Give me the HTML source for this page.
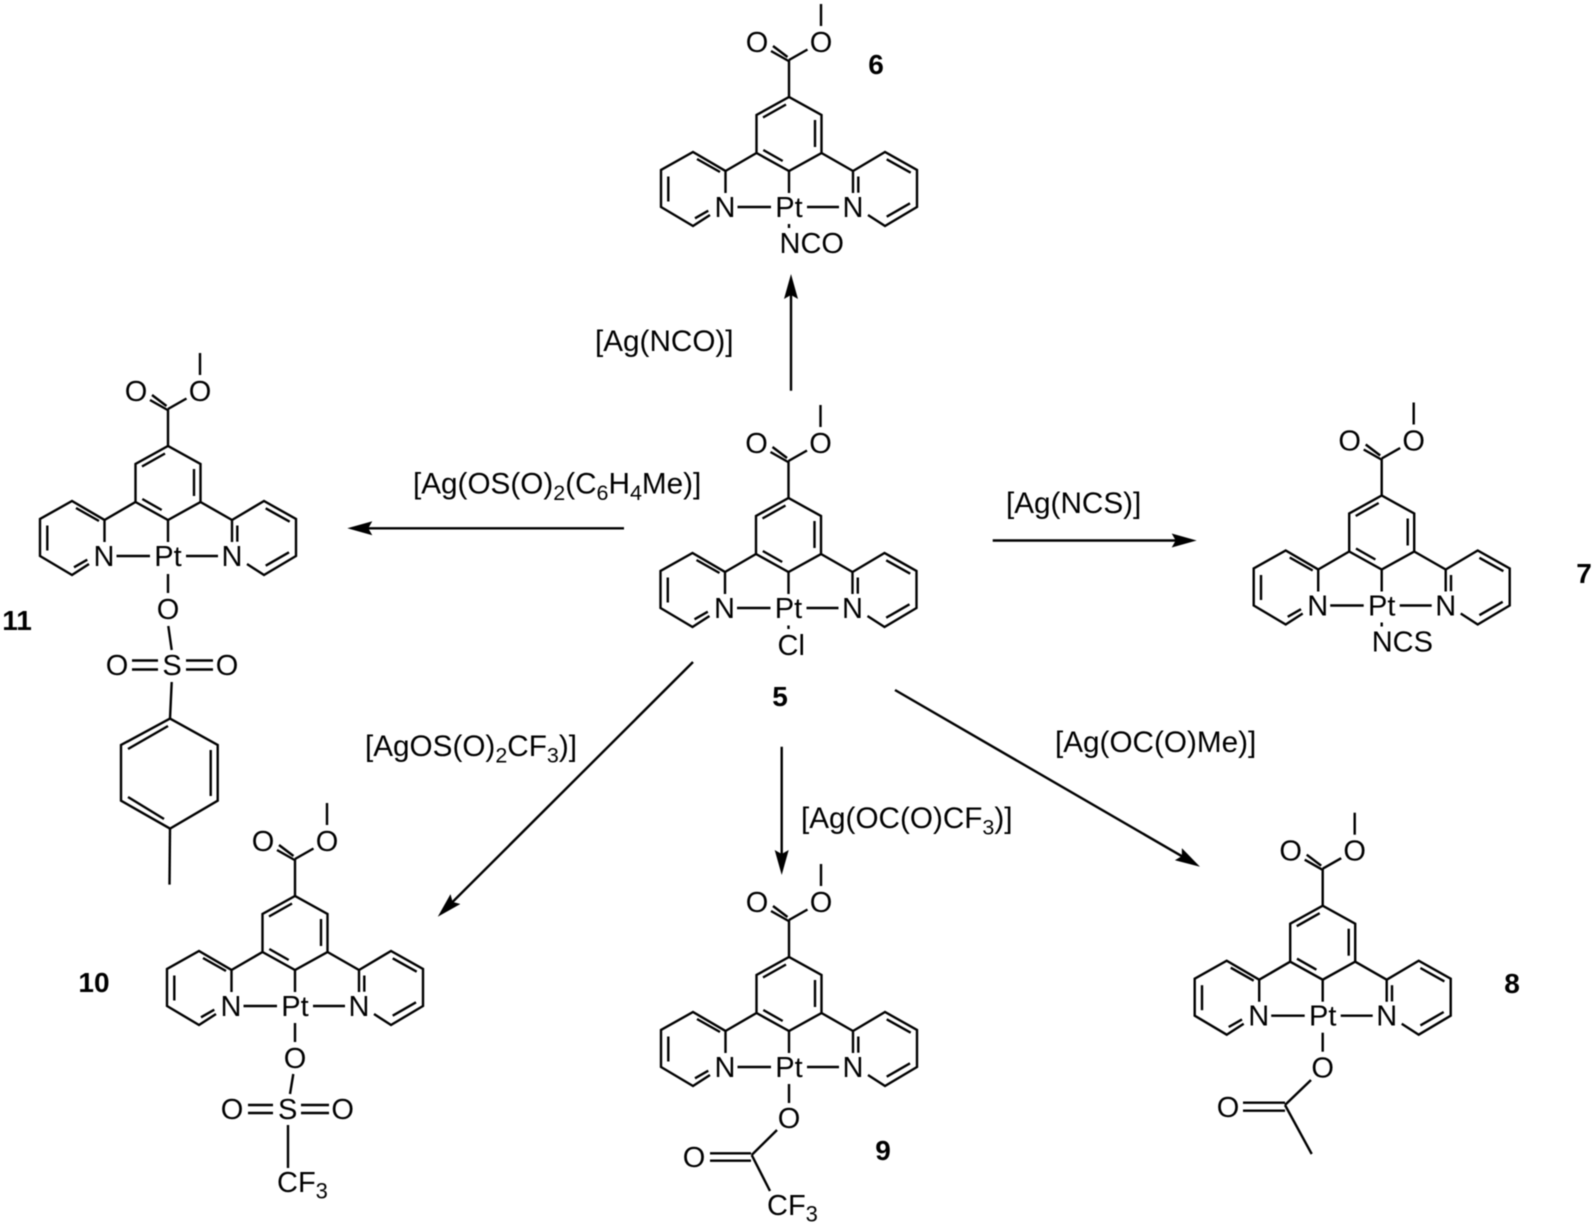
<!DOCTYPE html>
<html>
<head>
<meta charset="utf-8">
<style>
html,body{margin:0;padding:0;background:#fff;}
svg{display:block;filter:blur(0.4px);}
text{font-family:"Liberation Sans",Arial,sans-serif;font-size:29px;fill:#000;}
.a{text-anchor:middle;}
.b{font-weight:bold;text-anchor:middle;font-size:28px;}
.r{font-size:29.7px;}
line,polyline{stroke:#000;stroke-width:2.4;fill:none;stroke-linejoin:miter;}
</style>
</head>
<body>
<svg width="1595" height="1227" viewBox="0 0 1595 1227" xmlns="http://www.w3.org/2000/svg">
<defs>
<marker id="ah" markerUnits="userSpaceOnUse" markerWidth="28" markerHeight="18" viewBox="0 -9 28 18" refX="19" refY="0" orient="auto">
<path d="M25,0 L0,-7 L4,0 L0,7 Z" fill="#000"/>
</marker>
<g id="core">
<polyline points="-32.5,-54 -32.5,-92 0,-110 32.5,-92 32.5,-54 0,-36 -32.5,-54"/>
<line x1="-26" y1="-89.5" x2="-3" y2="-102.5"/>
<line x1="26" y1="-87" x2="26" y2="-60"/>
<line x1="-25.7" y1="-57" x2="-6.3" y2="-46"/>
<line x1="0" y1="-36" x2="0" y2="-14"/>
<line x1="0" y1="-110" x2="0" y2="-147"/>
<line x1="0" y1="-147" x2="18.5" y2="-157.5"/>
<line x1="0.5" y1="-145.5" x2="-18" y2="-156"/>
<line x1="-1.5" y1="-150" x2="-16" y2="-161"/>
<line x1="32" y1="-203" x2="32" y2="-181"/>
<line x1="-32.5" y1="-54" x2="-63.5" y2="-36"/>
<polyline points="-63.5,-14 -63.5,-36 -96,-55 -128,-37 -128,0 -96,19 -79,8"/>
<line x1="-92" y1="-48" x2="-69" y2="-35"/>
<line x1="-120.7" y1="-30.5" x2="-120.7" y2="-5.5"/>
<line x1="-94" y1="11.3" x2="-80.7" y2="3.7"/>
<line x1="-51.5" y1="0" x2="-18" y2="0"/>
<line x1="32.5" y1="-54" x2="64" y2="-36"/>
<polyline points="64,-14 64,-36 96,-55 128,-37 128,0 96,19 79,8"/>
<line x1="69.3" y1="-30.5" x2="69.3" y2="-14.3"/>
<line x1="97.7" y1="-47.7" x2="121.7" y2="-34.3"/>
<line x1="121" y1="-3.7" x2="97.7" y2="9.7"/>
<line x1="18" y1="0" x2="50" y2="0"/>
</g>
</defs>

<!-- compound 6 -->
<g transform="translate(789,207)">
<use href="#core"/>
<line x1="0" y1="17" x2="0" y2="21"/>
<text class="a" x="-32" y="-155">O</text><text class="a" x="32" y="-155">O</text>
<text class="a" x="-64" y="10">N</text><text class="a" x="0" y="10">Pt</text><text class="a" x="64" y="10">N</text>
<text x="-9.5" y="46">NCO</text>
</g>
<text class="b" x="876" y="74">6</text>

<!-- compound 5 -->
<g transform="translate(788.5,608)">
<use href="#core"/>
<line x1="0" y1="17.5" x2="0" y2="21"/>
<text class="a" x="-32" y="-155">O</text><text class="a" x="32" y="-155">O</text>
<text class="a" x="-64" y="10">N</text><text class="a" x="0" y="10">Pt</text><text class="a" x="64" y="10">N</text>
<text x="-11" y="47">Cl</text>
</g>
<text class="b" x="780" y="706">5</text>

<!-- compound 7 -->
<g transform="translate(1381.7,605.5)">
<use href="#core"/>
<line x1="0" y1="17" x2="0" y2="21"/>
<text class="a" x="-32" y="-155">O</text><text class="a" x="32" y="-155">O</text>
<text class="a" x="-64" y="10">N</text><text class="a" x="0" y="10">Pt</text><text class="a" x="64" y="10">N</text>
<text x="-10" y="46">NCS</text>
</g>
<text class="b" x="1584" y="583">7</text>

<!-- compound 11 -->
<g transform="translate(168,556)">
<use href="#core"/>
<line x1="0" y1="18" x2="0" y2="37"/>
<text class="a" x="-32" y="-155">O</text><text class="a" x="32" y="-155">O</text>
<text class="a" x="-64" y="10">N</text><text class="a" x="0" y="10">Pt</text><text class="a" x="64" y="10">N</text>
<text class="a" x="0" y="63">O</text>
</g>
<line x1="168.3" y1="626" x2="171.7" y2="650"/>
<text class="a" x="172" y="675">S</text>
<text class="a" x="117" y="675">O</text>
<text class="a" x="227" y="675">O</text>
<line x1="132" y1="660.5" x2="158" y2="660.5"/><line x1="132" y1="669.5" x2="158" y2="669.5"/>
<line x1="186" y1="660.5" x2="213" y2="660.5"/><line x1="186" y1="669.5" x2="213" y2="669.5"/>
<line x1="171.7" y1="682" x2="170" y2="718.6"/>
<polyline points="170,718.6 217.7,745 217.7,800.7 170,828.6 121,800.7 121,745 170,718.6"/>
<line x1="128" y1="749" x2="168" y2="726"/>
<line x1="210.7" y1="750" x2="210.7" y2="796"/>
<line x1="128" y1="797" x2="164" y2="819"/>
<line x1="170" y1="828.6" x2="169.5" y2="884.6"/>
<text class="b" x="17" y="630">11</text>

<!-- compound 10 -->
<g transform="translate(295,1006)">
<use href="#core"/>
<line x1="0" y1="17" x2="0" y2="36"/>
<text class="a" x="-32" y="-155">O</text><text class="a" x="32" y="-155">O</text>
<text class="a" x="-64" y="10">N</text><text class="a" x="0" y="10">Pt</text><text class="a" x="64" y="10">N</text>
<text class="a" x="0" y="62">O</text>
</g>
<line x1="293.3" y1="1074" x2="290" y2="1094"/>
<text class="a" x="287.7" y="1119">S</text>
<text class="a" x="232" y="1119">O</text>
<text class="a" x="342.7" y="1119">O</text>
<line x1="248" y1="1105" x2="273" y2="1105"/><line x1="248" y1="1113" x2="273" y2="1113"/>
<line x1="301" y1="1105" x2="329" y2="1105"/><line x1="301" y1="1113" x2="329" y2="1113"/>
<line x1="288" y1="1125" x2="288" y2="1168"/>
<text x="277" y="1192">CF<tspan font-size="22" dy="6.5">3</tspan></text>
<text class="b" x="94" y="992">10</text>

<!-- compound 9 -->
<g transform="translate(789,1067)">
<use href="#core"/>
<line x1="0" y1="17" x2="0" y2="36"/>
<text class="a" x="-32" y="-155">O</text><text class="a" x="32" y="-155">O</text>
<text class="a" x="-64" y="10">N</text><text class="a" x="0" y="10">Pt</text><text class="a" x="64" y="10">N</text>
<text class="a" x="0" y="61">O</text>
</g>
<line x1="777" y1="1130" x2="751.7" y2="1155"/>
<text class="a" x="694" y="1167">O</text>
<line x1="710" y1="1153.3" x2="751" y2="1153.3"/><line x1="710" y1="1160.7" x2="751" y2="1160.7"/>
<line x1="751.7" y1="1155" x2="770" y2="1191"/>
<text x="767" y="1215">CF<tspan font-size="22" dy="6.5">3</tspan></text>
<text class="b" x="883" y="1160">9</text>

<!-- compound 8 -->
<g transform="translate(1322.7,1015.7)">
<use href="#core"/>
<line x1="0" y1="17" x2="0" y2="36"/>
<text class="a" x="-32" y="-155">O</text><text class="a" x="32" y="-155">O</text>
<text class="a" x="-64" y="10">N</text><text class="a" x="0" y="10">Pt</text><text class="a" x="64" y="10">N</text>
<text class="a" x="0" y="62">O</text>
</g>
<line x1="1311" y1="1080" x2="1285" y2="1105"/>
<text class="a" x="1228" y="1117">O</text>
<line x1="1243" y1="1102.7" x2="1285" y2="1102.7"/><line x1="1243" y1="1110.7" x2="1285" y2="1110.7"/>
<line x1="1285" y1="1105" x2="1311.7" y2="1154"/>
<text class="b" x="1512" y="993">8</text>

<!-- arrows -->
<line x1="791" y1="390.7" x2="791" y2="280" marker-end="url(#ah)"/>
<line x1="624" y1="528.3" x2="353.3" y2="528.3" marker-end="url(#ah)"/>
<line x1="992.7" y1="540.5" x2="1190.7" y2="540.5" marker-end="url(#ah)"/>
<line x1="693" y1="662" x2="442" y2="912.5" marker-end="url(#ah)"/>
<line x1="781.7" y1="746.7" x2="781.7" y2="869" marker-end="url(#ah)"/>
<line x1="895" y1="690" x2="1194.8" y2="863.7" marker-end="url(#ah)"/>

<!-- reagents -->
<text class="r" x="595" y="351">[Ag(NCO)]</text>
<text class="r" x="413" y="493.5">[Ag(OS(O)<tspan font-size="21.5" dy="6.5">2</tspan><tspan dy="-6.5">(C</tspan><tspan font-size="21.5" dy="6.5">6</tspan><tspan dy="-6.5">H</tspan><tspan font-size="21.5" dy="6.5">4</tspan><tspan dy="-6.5">Me)]</tspan></text>
<text class="r" x="1006" y="513">[Ag(NCS)]</text>
<text class="r" x="365" y="756">[AgOS(O)<tspan font-size="21.5" dy="6.5">2</tspan><tspan dy="-6.5">CF</tspan><tspan font-size="21.5" dy="6.5">3</tspan><tspan dy="-6.5">)]</tspan></text>
<text class="r" x="801" y="828">[Ag(OC(O)CF<tspan font-size="21.5" dy="6.5">3</tspan><tspan dy="-6.5">)]</tspan></text>
<text class="r" x="1055" y="752">[Ag(OC(O)Me)]</text>
</svg>
</body>
</html>
